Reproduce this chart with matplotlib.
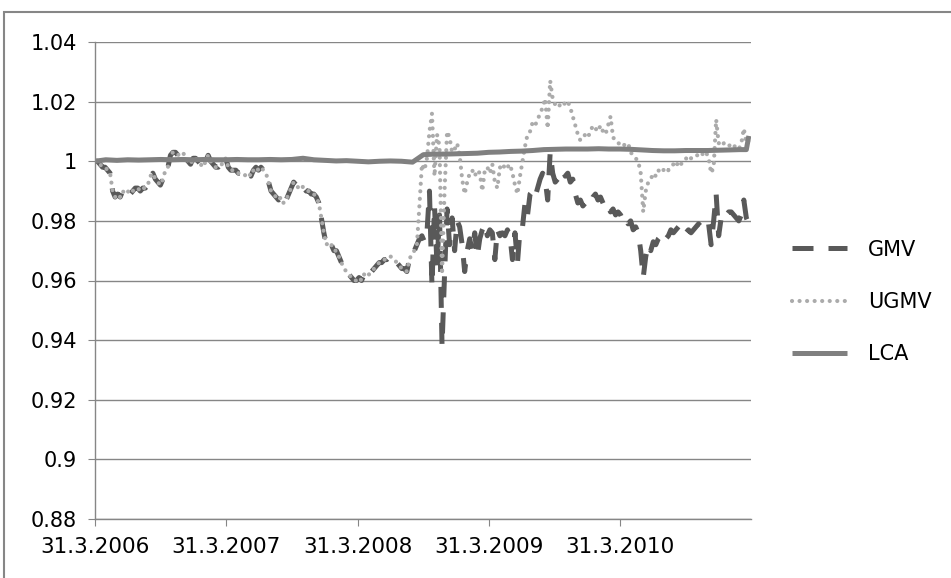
import numpy as np
import pandas as pd
import matplotlib
matplotlib.use("Agg")
import matplotlib.pyplot as plt
from matplotlib.patches import Rectangle

# weekly observations (Fridays), 31.3.2006 ... 25.3.2011
weeks = pd.date_range("2006-03-31", periods=261, freq="W-FRI")

# GMV and UGMV run together until late summer 2008
early = [1.000, 1.000, 0.999, 0.998, 0.998, 0.997, 0.996, 0.990, 0.988, 0.989, 0.988, 0.990, 0.989,
         0.990, 0.989, 0.990, 0.991, 0.991, 0.990, 0.991, 0.991, 0.992, 0.995, 0.996, 0.994, 0.993,
         0.992, 0.994, 0.997, 0.998, 1.002, 1.003, 1.003, 1.002, 1.003, 1.003, 1.001, 1.000, 0.999,
         1.001, 1.001, 1.000, 0.999, 0.998, 1.000, 1.002, 1.000, 0.999, 0.998, 0.998, 0.999, 0.999,
         1.001, 0.998, 0.997, 0.997, 0.997, 0.996, 0.996, 0.996, 0.995, 0.996, 0.995, 0.997, 0.998,
         0.997, 0.998, 0.997, 0.996, 0.993, 0.990, 0.989, 0.988, 0.987, 0.988, 0.986, 0.987, 0.989,
         0.991, 0.993, 0.992, 0.991, 0.992, 0.991, 0.990, 0.990, 0.989, 0.989, 0.988, 0.986, 0.981,
         0.976, 0.972, 0.973, 0.972, 0.970, 0.970, 0.968, 0.966, 0.964, 0.963, 0.962, 0.961, 0.960,
         0.960, 0.961, 0.960, 0.962, 0.963, 0.962, 0.963, 0.964, 0.965, 0.966, 0.966, 0.967, 0.967,
         0.968, 0.968, 0.967, 0.966, 0.965, 0.964, 0.964, 0.963, 0.967, 0.969, 0.970, 0.972]

gmv_late = [0.974, 0.975, 0.973, 0.976, 0.990, 0.958, 0.985, 0.965, 0.982, 0.938, 0.962, 0.984, 0.972,
            0.981, 0.970, 0.980, 0.978, 0.972, 0.963, 0.970, 0.974, 0.970, 0.976, 0.968, 0.974, 0.977,
            0.979, 0.975, 0.977, 0.976, 0.967, 0.977, 0.975, 0.976, 0.975, 0.977, 0.975, 0.967, 0.976,
            0.966, 0.977, 0.978, 0.986, 0.982, 0.989, 0.990, 0.988, 0.991, 0.994, 0.996, 0.994, 0.987,
            1.003, 0.996, 0.993, 0.994, 0.996, 0.997, 0.995, 0.996, 0.993, 0.994, 0.989, 0.986, 0.987,
            0.985, 0.986, 0.985, 0.986, 0.988, 0.989, 0.987, 0.988, 0.986, 0.984, 0.985, 0.983, 0.984,
            0.982, 0.983, 0.982, 0.980, 0.981, 0.979, 0.980, 0.977, 0.978, 0.976, 0.970, 0.961, 0.968,
            0.972, 0.970, 0.973, 0.972, 0.974, 0.975, 0.976, 0.974, 0.975, 0.977, 0.976, 0.977, 0.978,
            0.979, 0.977, 0.976, 0.977, 0.976, 0.977, 0.978, 0.979, 0.978, 0.978, 0.977, 0.979, 0.972,
            0.980, 0.989, 0.975, 0.981, 0.983, 0.982, 0.983, 0.983, 0.982, 0.981, 0.980, 0.982, 0.987,
            0.981, 0.979]

ugmv_late = [0.985, 0.999, 0.997, 1.001, 1.010, 1.016, 0.995, 1.009, 1.005, 0.962, 0.990, 1.010, 1.008,
             1.003, 1.004, 1.006, 1.002, 0.994, 0.989, 0.993, 0.996, 0.997, 0.995, 0.997, 0.996, 0.990,
             0.997, 0.998, 0.996, 0.999, 0.993, 0.991, 0.998, 0.997, 0.999, 0.998, 0.999, 0.996, 0.992,
             0.989, 0.995, 1.000, 1.005, 1.009, 1.010, 1.013, 1.012, 1.014, 1.016, 1.018, 1.021, 1.011,
             1.027, 1.021, 1.019, 1.018, 1.019, 1.020, 1.019, 1.020, 1.018, 1.015, 1.012, 1.009, 1.007,
             1.008, 1.009, 1.008, 1.010, 1.012, 1.011, 1.010, 1.012, 1.010, 1.009, 1.012, 1.015, 1.008,
             1.007, 1.006, 1.006, 1.005, 1.006, 1.006, 1.003, 1.002, 1.001, 1.000, 0.996, 0.983, 0.990,
             0.993, 0.994, 0.996, 0.995, 0.997, 0.996, 0.997, 0.998, 0.997, 0.998, 0.999, 0.998, 1.000,
             0.999, 1.000, 1.001, 1.000, 1.001, 1.001, 1.002, 1.002, 1.003, 1.002, 1.003, 1.001, 0.996,
             0.998, 1.014, 1.006, 1.007, 1.006, 1.006, 1.005, 1.006, 1.005, 1.005, 1.004, 1.006, 1.011,
             1.006, 1.007]

gmv = early + gmv_late
ugmv = early + ugmv_late

# LCA is almost flat: monthly points plus the last March 2011 weeks
lca_dates = pd.date_range("2006-03-31", "2011-02-28", freq="ME").append(
    pd.to_datetime(["2011-03-18", "2011-03-25"]))
lca = [1.0000, 1.0005, 1.0003, 1.0005, 1.0004, 1.0005, 1.0006, 1.0005, 1.0006, 1.0005, 1.0006, 1.0005,
       1.0005, 1.0006, 1.0005, 1.0005, 1.0006, 1.0005, 1.0006, 1.0010, 1.0005, 1.0003, 1.0001, 1.0002,
       1.0000, 0.9998, 1.0000, 1.0001, 1.0000, 0.9997, 1.0022, 1.0024, 1.0024, 1.0025, 1.0026, 1.0027,
       1.0030, 1.0031, 1.0033, 1.0034, 1.0036, 1.0039, 1.0040, 1.0041, 1.0041, 1.0041, 1.0042, 1.0041,
       1.0041, 1.0040, 1.0038, 1.0036, 1.0035, 1.0035, 1.0036, 1.0036, 1.0036, 1.0037, 1.0038, 1.0039,
       1.0039, 1.0085]

x_ticks = pd.to_datetime(["2006-03-31", "2007-03-31", "2008-03-31", "2009-03-31", "2010-03-31"])
x_labels = ["31.3.2006", "31.3.2007", "31.3.2008", "31.3.2009", "31.3.2010"]
y_ticks = [0.88, 0.90, 0.92, 0.94, 0.96, 0.98, 1.00, 1.02, 1.04]
y_labels = ["0.88", "0.9", "0.92", "0.94", "0.96", "0.98", "1", "1.02", "1.04"]

grey = "#868686"
plt.rcParams["font.family"] = ["DejaVu Sans"]

fig = plt.figure(figsize=(9.51, 5.78), dpi=100)
ax = fig.add_axes([95/951, 59/578, 656/951, 477/578])

ax.plot(weeks, gmv, color="#595959", lw=3.6, ls=(0, (4.2, 3.0)), dash_capstyle="butt", label="GMV")
ax.plot(weeks, ugmv, color="#ABABAB", lw=3.0, ls=(0, (0.01, 1.8)), dash_capstyle="round", label="UGMV")
ax.plot(lca_dates, lca, color="#808080", lw=3.6, solid_capstyle="butt", label="LCA")

ax.set_xlim(pd.Timestamp("2006-03-31"), pd.Timestamp("2011-03-31"))
ax.set_ylim(0.88, 1.04)
ax.set_xticks(x_ticks, x_labels)
ax.set_yticks(y_ticks, y_labels)
ax.yaxis.grid(True, color=grey, lw=1)
ax.set_axisbelow(True)
for s in ["top", "right"]:
    ax.spines[s].set_visible(False)
for s in ["left", "bottom"]:
    ax.spines[s].set_color(grey)
    ax.spines[s].set_linewidth(1)
ax.tick_params(axis="both", color=grey, length=5, width=0.8, labelsize=15, labelcolor="black")
ax.tick_params(axis="x", pad=8, labelsize=15.5)
ax.tick_params(axis="y", pad=8)

ax.legend(loc="center left", bbox_to_anchor=(1.0625, 0.455), frameon=False, fontsize=15,
          borderpad=0, borderaxespad=0, handlelength=2.65, handletextpad=1.0, labelspacing=1.55)

# outer chart border
fig.patches.append(Rectangle((4/951, -0.1), 2, 1 - 12/578 + 0.1, transform=fig.transFigure,
                             fill=False, ec=grey, lw=1.5))

fig.savefig("out.png", dpi=100)
